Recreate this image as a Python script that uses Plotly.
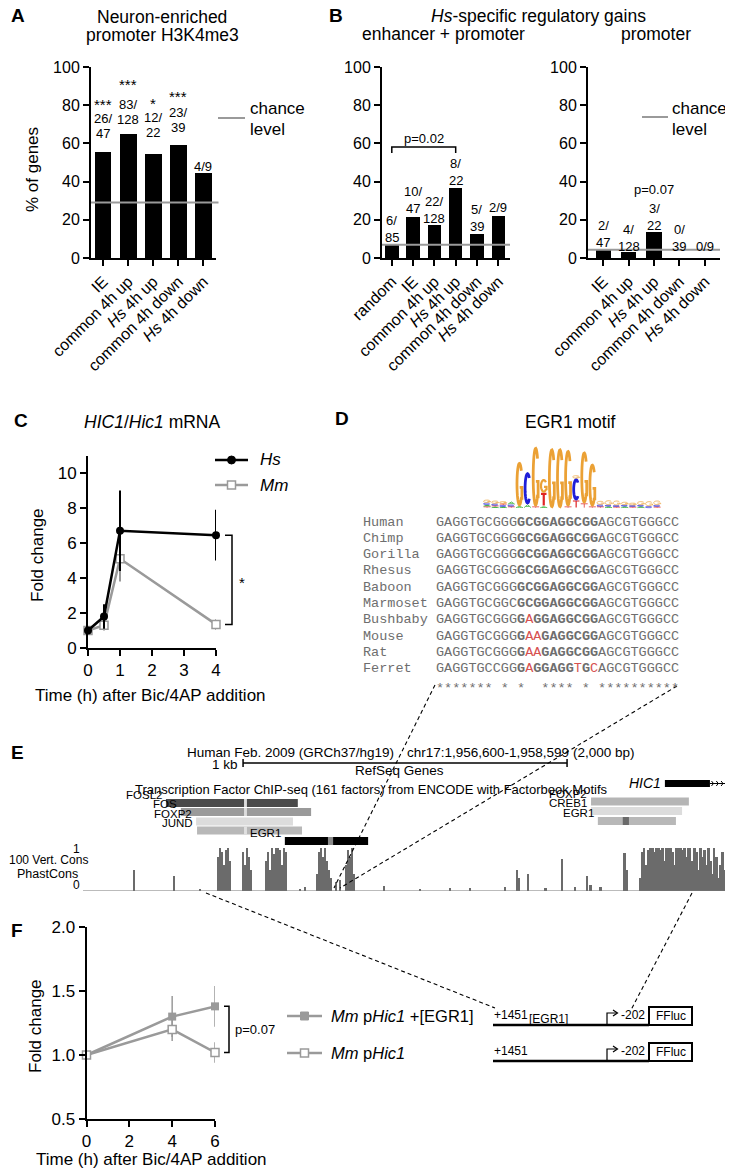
import math
import plotly.graph_objects as go

# the page body keeps an 8px margin: the figure starts 8px in from the top-left corner
OFF = 8
W, H = 733 - OFF, 1172 - OFF
FONT = "Liberation Sans, Arial, Helvetica, sans-serif"
MONO = "Liberation Mono, Courier New, monospace"
GRAY = "#9a9a9a"

# ======================= DATA =======================
# Panel A: neuron-enriched promoter H3K4me3 (% of genes)
a_cats = ["IE", "common 4h up", "<i>Hs</i> 4h up", "common 4h down", "<i>Hs</i> 4h down"]
a_vals = [55.3, 64.8, 54.5, 59.0, 44.4]
a_frac_top = ["26/", "83/", "12/", "23/", "4/9"]
a_frac_bot = ["47", "128", "22", "39", ""]
a_stars = ["***", "***", "*", "***", ""]
a_chance = 29.0

# Panel B left: enhancer + promoter
b1_cats = ["random", "IE", "common 4h up", "<i>Hs</i> 4h up", "common 4h down", "<i>Hs</i> 4h down"]
b1_vals = [7.1, 21.3, 17.2, 36.4, 12.8, 22.2]
b1_frac_top = ["6/", "10/", "22/", "8/", "5/", "2/9"]
b1_frac_bot = ["85", "47", "128", "22", "39", ""]
b1_chance = 7.0
b1_pval = "p=0.02"

# Panel B right: promoter
b2_cats = ["IE", "common 4h up", "<i>Hs</i> 4h up", "common 4h down", "<i>Hs</i> 4h down"]
b2_vals = [4.3, 3.1, 13.6, 0.0, 0.0]
b2_frac_top = ["2/", "4/", "3/", "0/", "0/9"]
b2_frac_bot = ["47", "128", "22", "39", ""]
b2_chance = 4.3
b2_pval = "p=0.07"

# Panel C: HIC1/Hic1 mRNA fold change
c_time = [0, 0.5, 1, 4]
c_hs = [1.0, 1.8, 6.7, 6.45]
c_hs_err = [0.1, 0.7, 2.3, 1.45]
c_mm = [1.0, 1.3, 5.1, 1.35]
c_mm_err = [0.1, 0.3, 1.3, 0.3]
c_xticks = [0, 1, 2, 3, 4]
c_yticks = [0, 2, 4, 6, 8, 10]

# Panel D: EGR1 motif alignment
d_species = ["Human", "Chimp", "Gorilla", "Rhesus", "Baboon", "Marmoset",
             "Bushbaby", "Mouse", "Rat", "Ferret"]
d_seqs = [
    "GAGGTGCGGGGCGGAGGCGGAGCGTGGGCC",
    "GAGGTGCGGGGCGGAGGCGGAGCGTGGGCC",
    "GAGGTGCGGGGCGGAGGCGGAGCGTGGGCC",
    "GAGGTGCGGGGCGGAGGCGGAGCGTGGGCC",
    "GAGGTGCGGGGCGGAGGCGGAGCGTGGGCC",
    "GAGGTGCGGCGCGGAGGCGGAGCGTGGGCC",
    "GAGGTGCGGGGAGGAGGCGGAGCGTGGGCC",
    "GAGGTGCGGGGAAGAGGCGGAGCGTGGGCC",
    "GAGGTGCGGGGAAGAGGCGGAGCGTGGGCC",
    "GAGGTGCCGGGAGGAGGTGCAGCGTGGGCC",
]
d_motif = (10, 20)
# sequence logo: stacks bottom->top of (letter, bits)
d_logo = [
    [("T", 0.05), ("A", 0.05), ("C", 0.07), ("G", 0.10)],
    [("A", 0.04), ("T", 0.04), ("C", 0.06), ("G", 0.10)],
    [("A", 0.04), ("C", 0.05), ("T", 0.05), ("G", 0.08)],
    [("T", 0.05), ("C", 0.06), ("A", 0.10)],
    [("A", 0.06), ("G", 1.45)],
    [("A", 0.12), ("C", 1.05)],
    [("T", 0.05), ("G", 1.95)],
    [("A", 0.05), ("T", 0.45), ("G", 0.45)],
    [("G", 1.95)],
    [("G", 1.95)],
    [("T", 0.05), ("G", 1.85)],
    [("T", 0.25), ("C", 0.72), ("G", 0.10)],
    [("T", 0.15), ("G", 1.70)],
    [("T", 0.05), ("G", 1.40)],
    [("T", 0.05), ("C", 0.06), ("G", 0.12)],
    [("A", 0.05), ("C", 0.05), ("G", 0.15)],
    [("T", 0.04), ("C", 0.05), ("G", 0.15)],
    [("A", 0.05), ("C", 0.05), ("G", 0.10)],
    [("T", 0.04), ("C", 0.05), ("G", 0.08)],
    [("A", 0.05), ("C", 0.05), ("G", 0.12)],
    [("C", 0.06), ("G", 0.16)],
    [("T", 0.04), ("C", 0.06), ("G", 0.14)],
]

# Panel E: genome browser chr17:1,956,600-1,958,599
e_start, e_end = 1956600, 1958600
e_scale_bar = (1957094, 1958094)
e_cons_pos = [158, 281, 362, 417, 423, 430, 436, 442, 448, 454, 494, 501, 507, 513, 519,
              565, 572, 578, 584, 590, 596, 603, 609, 615, 621, 627, 671, 686,
              723, 729, 735, 742, 748, 754, 760, 766, 782, 794, 813, 819, 825, 831, 837,
              930, 1041, 1134, 1196, 1304, 1341, 1347, 1375, 1428, 1480, 1520, 1557, 1567,
              1598, 1672, 1678, 1721, 1727, 1733, 1740, 1746,
              1752, 1758, 1764, 1771, 1777, 1783, 1789, 1795, 1801, 1807,
              1814, 1820, 1826, 1832, 1838, 1845, 1851, 1857, 1863, 1869,
              1875, 1882, 1888, 1894, 1900, 1906, 1912, 1919, 1925, 1931,
              1937, 1943, 1949, 1956, 1962, 1968, 1974, 1980, 1986, 1993]
e_cons_val = [0.5, 0.35, 0.05, 0.8, 1.0, 0.9, 0.6, 0.95, 1.0, 0.7, 0.9, 0.6, 1.0, 0.8, 0.5,
              0.7, 0.9, 0.5, 1.0, 0.85, 1.0, 1.0, 0.95, 0.6, 1.0, 0.9, 0.05, 0.1,
              0.4, 0.9, 1.0, 0.8, 1.0, 0.7, 0.5, 0.3, 0.2, 0.25, 0.6, 0.95, 0.8, 1.0, 0.4,
              0.12, 0.05, 0.06, 0.08, 0.1, 0.5, 0.3, 0.4, 0.08, 0.75, 0.1, 0.35, 0.15,
              0.1, 0.88, 0.5, 0.3, 0.9, 1.0, 0.6, 0.95,
              1.0, 1.0, 0.9, 1.0, 1.0, 0.95, 1.0, 0.7, 1.0, 1.0,
              1.0, 0.9, 0.6, 1.0, 1.0, 1.0, 0.95, 1.0, 0.8, 1.0,
              1.0, 0.7, 1.0, 0.9, 0.5, 1.0, 0.8, 0.95, 0.6, 1.0,
              0.7, 0.4, 1.0, 0.8, 0.3, 0.6, 0.9, 0.5, 0.8, 0.4]
e_tf_names = ["FOSL2", "FOS", "FOXP2", "JUND", "EGR1", "FOXP2", "CREB1", "EGR1"]
e_tf_start = [1956856, 1956902, 1956949, 1956952, 1957223, 1958168, 1958168, 1958189]
e_tf_end = [1957263, 1957304, 1957248, 1957276, 1957480, 1958470, 1958449, 1958430]
e_tf_motif = [(1957097, 1957106), (1957097, 1957106), None, (1957097, 1957106),
              (1957356, 1957372), None, None, (1958266, 1958285)]
e_gene_name = "HIC1"
e_gene_thick = (1958396, 1958535)
e_gene_end = 1958597

# Panel F: luciferase reporter fold change
f_time = [0, 4, 6]
f_egr = [1.0, 1.30, 1.38]
f_egr_err = [0.02, 0.16, 0.16]
f_ctrl = [1.0, 1.20, 1.02]
f_ctrl_err = [0.02, 0.09, 0.08]
f_xticks = [0, 2, 4, 6]
f_yticks = [0.5, 1.0, 1.5, 2.0]
f_pval = "p=0.07"

# ======================= HELPERS =======================
def px(x):
    return (x - OFF) / W


def py(y):
    return 1 - (y - OFF) / H


shapes = []
anns = []


def txt(x, y, s, size=16, xanchor="center", color="black", family=FONT, yanchor="middle", **kw):
    anns.append(dict(x=px(x), y=py(y), xref="paper", yref="paper", text=s, showarrow=False,
                     font=dict(size=size, color=color, family=family),
                     xanchor=xanchor, yanchor=yanchor, **kw))


def pline(x0, y0, x1, y1, color="black", width=1.0, dash=None):
    shapes.append(dict(type="line", xref="paper", yref="paper", x0=px(x0), y0=py(y0),
                       x1=px(x1), y1=py(y1), line=dict(color=color, width=width, dash=dash)))


def prect(x0, y0, x1, y1, fill, lc=None, lw=0):
    shapes.append(dict(type="rect", xref="paper", yref="paper", x0=px(x0), y0=py(y0),
                       x1=px(x1), y1=py(y1), fillcolor=fill,
                       line=dict(color=lc or fill, width=lw)))


def ppath(points, color="black", width=1.0, fill=None):
    d = ""
    for i, (x, y) in enumerate(points):
        d += ("M " if i == 0 else " L ") + f"{px(x):.5f},{py(y):.5f}"
    if fill:
        d += " Z"
    shapes.append(dict(type="path", xref="paper", yref="paper", path=d,
                       fillcolor=fill or "rgba(0,0,0,0)", line=dict(color=color, width=width)))


def axis(**kw):
    d = dict(showline=True, linecolor="black", linewidth=2, ticks="outside", ticklen=6,
             tickwidth=2, tickcolor="black", showgrid=False, zeroline=False, fixedrange=True,
             automargin=False, tickfont=dict(size=16, family=FONT, color="black"))
    d.update(kw)
    return d


fig = go.Figure()

# ======================= PANEL A =======================
fig.add_trace(go.Bar(x=list(range(len(a_vals))), y=a_vals, width=0.67,
                     marker=dict(color="black", line=dict(width=0)), xaxis="x", yaxis="y"))
a_shift = [19, 15, 21, 18, 7]
a_star_shift = [48, 50, 50, 49, 0]
for i, v in enumerate(a_vals):
    if a_frac_bot[i]:
        anns.append(dict(x=i, y=v, xref="x", yref="y", text=a_frac_bot[i], showarrow=False,
                         yshift=a_shift[i], font=dict(size=13, family=FONT, color="black")))
        anns.append(dict(x=i, y=v, xref="x", yref="y", text=a_frac_top[i], showarrow=False,
                         yshift=a_shift[i] + 15, font=dict(size=13, family=FONT, color="black")))
    else:
        anns.append(dict(x=i, y=v, xref="x", yref="y", text=a_frac_top[i], showarrow=False,
                         yshift=a_shift[i], font=dict(size=13, family=FONT, color="black")))
    if a_stars[i]:
        anns.append(dict(x=i, y=v, xref="x", yref="y", text=a_stars[i], showarrow=False,
                         yshift=a_star_shift[i], font=dict(size=15, family=FONT, color="black")))
shapes.append(dict(type="line", xref="x domain", yref="y", x0=0, x1=1.02, y0=a_chance, y1=a_chance,
                   line=dict(color=GRAY, width=2), layer="above"))
pline(218, 118, 245, 118, GRAY, 2)
txt(248, 108, "chance", 17, "left")
txt(248, 130, "level", 17, "left")
txt(9, 16, "<b>A</b>", 19, "left")
txt(162, 17, "Neuron-enriched", 17.5)
txt(162, 35, "promoter H3K4me3", 17.5)
txt(33, 170, "% of genes", 17, textangle=-90)

# ======================= PANEL B =======================
fig.add_trace(go.Bar(x=list(range(len(b1_vals))), y=b1_vals, width=0.63,
                     marker=dict(color="black", line=dict(width=0)), xaxis="x2", yaxis="y2"))
fig.add_trace(go.Bar(x=list(range(len(b2_vals))), y=b2_vals, width=0.59,
                     marker=dict(color="black", line=dict(width=0)), xaxis="x3", yaxis="y3"))
b1_shift = [7, 9, 7, 8, 7, 8]
b2_shift = [7, 6, 7, 12, 12]
for (vals, tops, bots, shifts, xr, yr) in [(b1_vals, b1_frac_top, b1_frac_bot, b1_shift, "x2", "y2"),
                                           (b2_vals, b2_frac_top, b2_frac_bot, b2_shift, "x3", "y3")]:
    for i, v in enumerate(vals):
        if bots[i]:
            anns.append(dict(x=i, y=v, xref=xr, yref=yr, text=bots[i], showarrow=False,
                             yshift=shifts[i], font=dict(size=13, family=FONT, color="black")))
            anns.append(dict(x=i, y=v, xref=xr, yref=yr, text=tops[i], showarrow=False,
                             yshift=shifts[i] + 17, font=dict(size=13, family=FONT, color="black")))
        else:
            anns.append(dict(x=i, y=v, xref=xr, yref=yr, text=tops[i], showarrow=False,
                             yshift=shifts[i], font=dict(size=13, family=FONT, color="black")))
shapes.append(dict(type="line", xref="x2 domain", yref="y2", x0=0, x1=1, y0=b1_chance, y1=b1_chance,
                   line=dict(color=GRAY, width=2), layer="above"))
shapes.append(dict(type="line", xref="x3 domain", yref="y3", x0=0, x1=1, y0=b2_chance, y1=b2_chance,
                   line=dict(color=GRAY, width=2), layer="above"))
# significance bracket random vs Hs 4h up
shapes.append(dict(type="path", xref="x2", yref="y2",
                   path="M 0,55 L 0,58.1 L 3,58.1 L 3,55", line=dict(color="black", width=1.5)))
anns.append(dict(x=1.5, y=62.8, xref="x2", yref="y2", text=b1_pval, showarrow=False,
                 font=dict(size=13, family=FONT, color="black")))
anns.append(dict(x=2, y=b2_vals[2], xref="x3", yref="y3", text=b2_pval, showarrow=False,
                 yshift=43, font=dict(size=13, family=FONT, color="black")))
pline(642, 117, 668, 117, GRAY, 2)
txt(670, 108, "chance", 17, "left")
txt(670, 130, "level", 17, "left")
txt(327, 16, "<b>B</b>", 19, "left")
txt(538, 16, "<i>Hs</i>-specific regulatory gains", 17.5)
txt(443, 34, "enhancer + promoter", 17.5)
txt(656, 34, "promoter", 17.5)

# ======================= PANEL C =======================
fig.add_trace(go.Scatter(x=c_time, y=c_mm, mode="lines+markers", xaxis="x4", yaxis="y4",
                         line=dict(color=GRAY, width=2.5), cliponaxis=False,
                         marker=dict(symbol="square", size=8, color="white", line=dict(color=GRAY, width=1.5)),
                         error_y=dict(type="data", array=c_mm_err, color=GRAY, thickness=2, width=0)))
fig.add_trace(go.Scatter(x=c_time, y=c_hs, mode="lines+markers", xaxis="x4", yaxis="y4",
                         line=dict(color="black", width=2.5), cliponaxis=False,
                         marker=dict(symbol="circle", size=8, color="black"),
                         error_y=dict(type="data", array=c_hs_err, color="black", thickness=2, width=0)))
shapes.append(dict(type="path", xref="paper", yref="y4",
                   path=f"M {px(225):.5f},{c_hs[-1]} L {px(232):.5f},{c_hs[-1]} L {px(232):.5f},{c_mm[-1]} L {px(225):.5f},{c_mm[-1]}",
                   line=dict(color="black", width=1.5)))
anns.append(dict(x=px(237), y=(c_hs[-1] + c_mm[-1]) / 2, xref="paper", yref="y4", text="*",
                 showarrow=False, xanchor="left", yshift=-3, font=dict(size=15, family=FONT, color="black")))
pline(215, 460, 248, 460, "black", 2.5)
shapes.append(dict(type="circle", xref="paper", yref="paper", x0=px(227.5), x1=px(235.5),
                   y0=py(464), y1=py(456), fillcolor="black", line=dict(color="black", width=1)))
txt(258, 460, "<i>Hs</i>", 17, "left")
pline(215, 485, 248, 485, GRAY, 2.5)
prect(227.5, 481, 235.5, 489, "white", GRAY, 1.5)
txt(258, 485, "<i>Mm</i>", 17, "left")
txt(12, 420, "<b>C</b>", 19, "left")
txt(152, 422, "<i>HIC1</i>/<i>Hic1</i> mRNA", 17.5)
txt(37, 555, "Fold change", 17, textangle=-90)
txt(150, 695, "Time (h) after Bic/4AP addition", 17)

# ======================= PANEL D =======================
txt(333, 418, "<b>D</b>", 19, "left")
txt(570, 422, "EGR1 motif", 17.5)

LOGO_COL = {"G": "#EBA135", "C": "#1f1fd8", "T": "#e02424", "A": "#22aa22"}


def glyph(letter, x0, x1, ybot, ytop):
    h = ybot - ytop
    w = x1 - x0
    if h < 0.5:
        return
    lw = max(0.7, min(2.9, 0.16 * h, 0.36 * w))
    ix0, ix1 = x0 + lw / 2, x1 - lw / 2
    iyt, iyb = ytop + lw / 2, ybot - lw / 2
    if iyb - iyt < 0.2:
        iyt = iyb - 0.2

    def P(u, v):
        return f"{px(ix0 + u * (ix1 - ix0)):.5f},{py(iyb - v * (iyb - iyt)):.5f}"

    if letter in "CG":
        a0, a1 = (40, 320) if letter == "G" else (45, 315)
        pts = [P(0.5 + 0.5 * math.cos(math.radians(a0 + (a1 - a0) * k / 24)),
                 0.5 + 0.5 * math.sin(math.radians(a0 + (a1 - a0) * k / 24))) for k in range(25)]
        d = "M " + " L ".join(pts)
        if letter == "G":
            d += f" M {P(0.55, 0.42)} L {P(1.0, 0.42)} L {P(1.0, 0.12)}"
    elif letter == "T":
        d = f"M {P(0, 1)} L {P(1, 1)} M {P(0.5, 1)} L {P(0.5, 0)}"
    else:
        d = f"M {P(0, 0)} L {P(0.5, 1)} L {P(1, 0)} M {P(0.25, 0.42)} L {P(0.75, 0.42)}"
    shapes.append(dict(type="path", xref="paper", yref="paper", path=d,
                       fillcolor="rgba(0,0,0,0)", line=dict(color=LOGO_COL[letter], width=lw)))


logo_x0, col_w, logo_base, bit_px = 483.0, 8.1, 508.0, 30.5
for ci, stack in enumerate(d_logo):
    x0 = logo_x0 + ci * col_w + 0.2
    x1 = x0 + col_w - 0.4
    yb = logo_base
    for letter, bits in stack:
        hpx = bits * bit_px
        glyph(letter, x0, x1, yb, yb - hpx)
        yb -= hpx

row_y0, row_dy = 522.0, 16.3
ref = d_seqs[0]
for r, (name, seq) in enumerate(zip(d_species, d_seqs)):
    yy = row_y0 + r * row_dy
    txt(361, yy, name, 13.5, "left", "#6e6e6e", MONO)
    parts = []
    for k, ch in enumerate(seq):
        if d_motif[0] <= k < d_motif[1]:
            if ch != ref[k]:
                parts.append(f"<span style='color:#d65050'>{ch}</span>")
            else:
                parts.append(f"<b>{ch}</b>")
        else:
            parts.append(ch)
    txt(434, yy, "".join(parts), 13.5, "left", "#6e6e6e", MONO)
stars = "".join("*" if all(s[k] == ref[k] for s in d_seqs) else "\u00a0" for k in range(len(ref)))
txt(434, row_y0 + len(d_seqs) * row_dy + 3, stars, 13.5, "left", "#6e6e6e", MONO)

# ======================= PANEL E =======================
txt(9, 753, "<b>E</b>", 19, "left")
txt(185, 753, "Human Feb. 2009 (GRCh37/hg19)", 13.5, "left")
txt(405, 753, "chr17:1,956,600-1,958,599 (2,000 bp)", 13.5, "left")
txt(240, 764, "1 kb", 13.5, "right")
shapes.append(dict(type="line", xref="x5", yref="paper", x0=e_scale_bar[0], x1=e_scale_bar[1],
                   y0=py(763), y1=py(763), line=dict(color="black", width=1.5)))
for xb in e_scale_bar:
    shapes.append(dict(type="line", xref="x5", yref="paper", x0=xb, x1=xb,
                       y0=py(759), y1=py(767), line=dict(color="black", width=1.5)))
txt(400, 770, "RefSeq Genes", 13.5)
txt(133, 790, "Transcription Factor ChIP-seq (161 factors) from ENCODE with Factorbook Motifs", 13, "left")
# gene
shapes.append(dict(type="rect", xref="x5", yref="paper", x0=e_gene_thick[0], x1=e_gene_thick[1],
                   y0=py(787), y1=py(780), fillcolor="black", line=dict(width=0)))
shapes.append(dict(type="line", xref="x5", yref="paper", x0=e_gene_thick[1], x1=e_gene_end,
                   y0=py(783.5), y1=py(783.5), line=dict(color="black", width=1)))
for k in range(4):
    xa = e_gene_thick[1] + (k + 0.6) * (e_gene_end - e_gene_thick[1]) / 4.2
    shapes.append(dict(type="path", xref="x5", yref="paper",
                       path=f"M {xa - 4},{py(781):.5f} L {xa + 2},{py(783.5):.5f} L {xa - 4},{py(786):.5f}",
                       line=dict(color="black", width=1)))
anns.append(dict(x=e_gene_thick[0], y=py(783), xref="x5", yref="paper", text=f"<i>{e_gene_name}</i>",
                 showarrow=False, xanchor="right", xshift=-2, font=dict(size=14, family=FONT, color="black")))
# TF ChIP-seq clusters
tf_rows_y = [803, 812, 821.5, 830.5, 841, 801.5, 811, 821]
tf_colors = ["#4a4a4a", "#9a9a9a", "#dcdcdc", "#b8b8b8", "#000000", "#b5b5b5", "#dcdcdc", "#b8b8b8"]
tf_motif_col = ["#dddddd", "#dddddd", None, "#e0e0e0", "#8a8a8a", None, None, "#6a6a6a"]
for i, name in enumerate(e_tf_names):
    yc = tf_rows_y[i]
    shapes.append(dict(type="rect", xref="x5", yref="paper", x0=e_tf_start[i], x1=e_tf_end[i],
                       y0=py(yc + 4), y1=py(yc - 4), fillcolor=tf_colors[i], line=dict(width=0)))
    if e_tf_motif[i]:
        shapes.append(dict(type="rect", xref="x5", yref="paper", x0=e_tf_motif[i][0], x1=e_tf_motif[i][1],
                           y0=py(yc + 4), y1=py(yc - 4), fillcolor=tf_motif_col[i], line=dict(width=0)))
    anns.append(dict(x=e_tf_start[i], y=py(yc), xref="x5", yref="paper", text=name, showarrow=False,
                     xanchor="right", xshift=-2, font=dict(size=11.5, family=FONT, color="black")))
# conservation track
fig.add_trace(go.Bar(x=[e_start + p for p in e_cons_pos], y=e_cons_val, width=6,
                     marker=dict(color="#6b6b6b", line=dict(width=0)), xaxis="x5", yaxis="y5"))
shapes.append(dict(type="line", xref="x5", yref="y5", x0=e_start, x1=e_end, y0=0, y1=0,
                   line=dict(color="#777777", width=1)))
txt(76, 849, "1", 12)
txt(90, 860, "100 Vert. Cons", 12, "right")
txt(47, 874, "PhastCons", 12.5)
txt(76, 885, "0", 12)

# ======================= PANEL F =======================
fig.add_trace(go.Scatter(x=f_time, y=f_egr, mode="lines+markers", xaxis="x6", yaxis="y6",
                         line=dict(color=GRAY, width=2.5), cliponaxis=False,
                         marker=dict(symbol="square", size=8, color=GRAY),
                         error_y=dict(type="data", array=f_egr_err, color=GRAY, thickness=1.5, width=0)))
fig.add_trace(go.Scatter(x=f_time, y=f_ctrl, mode="lines+markers", xaxis="x6", yaxis="y6",
                         line=dict(color=GRAY, width=2.5), cliponaxis=False,
                         marker=dict(symbol="square", size=8, color="white", line=dict(color=GRAY, width=1.5)),
                         error_y=dict(type="data", array=f_ctrl_err, color=GRAY, thickness=1.5, width=0)))
shapes.append(dict(type="path", xref="paper", yref="y6",
                   path=f"M {px(224):.5f},{f_egr[-1]} L {px(229):.5f},{f_egr[-1]} L {px(229):.5f},{f_ctrl[-1]} L {px(224):.5f},{f_ctrl[-1]}",
                   line=dict(color="black", width=1.5)))
anns.append(dict(x=px(233), y=(f_egr[-1] + f_ctrl[-1]) / 2, xref="paper", yref="y6", text=f_pval,
                 showarrow=False, xanchor="left", font=dict(size=13, family=FONT, color="black")))
txt(9, 930, "<b>F</b>", 19, "left")
txt(35, 1026, "Fold change", 17, textangle=-90)
txt(151, 1159, "Time (h) after Bic/4AP addition", 17)
# legend
pline(287, 1016, 322, 1016, GRAY, 2.5)
prect(300.5, 1012, 308.5, 1020, GRAY, GRAY, 1)
txt(329, 1016, "<i>Mm</i> p<i>Hic1</i> +[EGR1]", 16.5, "left")
pline(287, 1053, 322, 1053, GRAY, 2.5)
prect(300.5, 1049, 308.5, 1057, "white", GRAY, 1.5)
txt(329, 1053, "<i>Mm</i> p<i>Hic1</i>", 16.5, "left")
# reporter constructs
for k, (yl, with_egr) in enumerate([(1025, True), (1061, False)]):
    pline(493, yl, 649, yl, "black", 2.5)
    ppath([(607, yl), (607, yl - 12), (617, yl - 12)], "black", 1.2)
    ppath([(613, yl - 15), (617.5, yl - 12), (613, yl - 9)], "black", 1.2)
    prect(649, yl - 18, 692, yl, "white", "black", 2)
    txt(670.5, yl - 9, "FFluc", 12)
    txt(492, yl - 10, "+1451", 12, "left")
    txt(619, yl - 10, "-202", 12, "left")
    if with_egr:
        txt(527, yl - 6, "[EGR1]", 12, "left")

# ======================= CONNECTORS =======================
DASH = "4px,3px"
pline(435, 685, 334, 888, "black", 1.1, DASH)
pline(677, 686, 340, 888, "black", 1.1, DASH)
pline(206, 893, 495, 1008, "black", 1.1, DASH)
pline(692, 893, 631, 1010, "black", 1.1, DASH)

# ======================= LAYOUT =======================
layout = dict(
    width=W, height=H, margin=dict(l=0, r=0, t=0, b=0, pad=0, autoexpand=False), autosize=False,
    paper_bgcolor="white", plot_bgcolor="white", showlegend=False,
    font=dict(family=FONT, color="black"),
    xaxis=axis(domain=[px(91), px(216)], range=[-0.48, 4.5], tickvals=list(range(len(a_cats))),
               ticktext=a_cats, tickangle=-45, anchor="y"),
    yaxis=axis(domain=[py(258), py(67)], range=[0, 100], tickvals=[0, 20, 40, 60, 80, 100], anchor="x"),
    xaxis2=axis(domain=[px(382), px(510)], range=[-0.46, 5.55], tickvals=list(range(len(b1_cats))),
                ticktext=b1_cats, tickangle=-45, anchor="y2"),
    yaxis2=axis(domain=[py(258), py(67)], range=[0, 100], tickvals=[0, 20, 40, 60, 80, 100], anchor="x2"),
    xaxis3=axis(domain=[px(588), px(720)], range=[-0.59, 4.59], tickvals=list(range(len(b2_cats))),
                ticktext=b2_cats, tickangle=-45, anchor="y3"),
    yaxis3=axis(domain=[py(258), py(67)], range=[0, 100], tickvals=[0, 20, 40, 60, 80, 100], anchor="x3"),
    xaxis4=axis(domain=[px(88), px(216)], range=[0, 4], tickvals=c_xticks, anchor="y4",
                tickfont=dict(size=17, family=FONT, color="black")),
    yaxis4=axis(domain=[py(648), py(455.5)], range=[0, 11], tickvals=c_yticks, anchor="x4",
                tickfont=dict(size=17, family=FONT, color="black")),
    xaxis5=dict(domain=[px(83), px(731)], range=[e_start, e_end], visible=False, anchor="y5",
                fixedrange=True, automargin=False),
    yaxis5=dict(domain=[py(891), py(848)], range=[0, 1], visible=False, anchor="x5",
                fixedrange=True, automargin=False),
    xaxis6=axis(domain=[px(86.5), px(215)], range=[0, 6], tickvals=f_xticks, anchor="y6",
                tickfont=dict(size=17, family=FONT, color="black")),
    yaxis6=axis(domain=[py(1119), py(927)], range=[0.5, 2.0], tickvals=f_yticks, tickformat=".1f",
                anchor="x6", tickfont=dict(size=17, family=FONT, color="black")),
    shapes=shapes,
    annotations=anns,
    bargap=0,
)
fig.update_layout(**layout)
fig.write_html("out.html")
